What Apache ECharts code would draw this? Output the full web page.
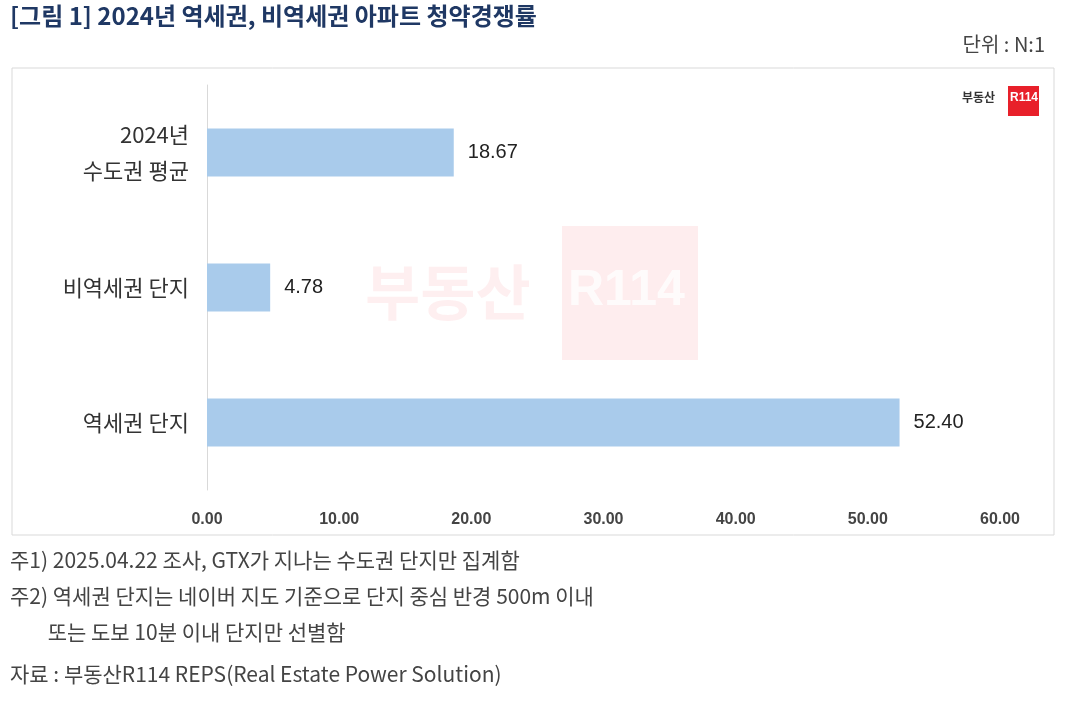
<!DOCTYPE html>
<html><head><meta charset="utf-8">
<script src="https://cdn.jsdelivr.net/npm/echarts@6/dist/echarts.min.js"></script>
<style>body{margin:0;background:#fff}#c{width:1077px;height:723px}</style>
</head><body><div id="c"></div>
<script>
var categories = ['역세권 단지', '비역세권 단지', '2024년\n수도권 평균'];
var values = [52.40, 4.78, 18.67];
var xTicks = [0, 10, 20, 30, 40, 50, 60];
var notes = [
  '주1) 2025.04.22 조사, GTX가 지나는 수도권 단지만 집계함',
  '주2) 역세권 단지는 네이버 지도 기준으로 단지 중심 반경 500m 이내',
  '        또는 도보 10분 이내 단지만 선별함',
  '자료 : 부동산R114 REPS(Real Estate Power Solution)'
];
var noteY = [565, 601, 637, 679];

var font = '"Noto Sans CJK KR", sans-serif';
var graphics = [
  {type:'rect', shape:{x:12,y:68,width:1042,height:467}, style:{fill:'none', stroke:'#d9d9d9', lineWidth:1}, z:-10},
  {type:'text', left:10, top:4, style:{text:'[그림 1] 2024년 역세권, 비역세권 아파트 청약경쟁률', font:'bold 24px '+font, fill:'#1f3864', letterSpacing:1.5}},
  {type:'text', right:32, top:34, style:{text:'단위 : N:1', font:'20px '+font, fill:'#444'}},
  {type:'rect', shape:{x:562,y:226,width:136,height:134}, style:{fill:'rgba(237,28,36,0.08)'}, z:-5},
  {type:'text', x:365, y:262, style:{text:'부동산', font:'bold 60px '+font, fill:'rgba(237,28,36,0.07)'}, z:-5},
  {type:'text', x:568, y:266, style:{text:'R114', font:'bold 50px Arial', fill:'rgba(255,255,255,0.8)'}, z:-4},
  {type:'text', x:962, y:91, style:{text:'부동산', font:'bold 12px '+font, fill:'#333'}},
  {type:'rect', shape:{x:1008,y:86,width:31,height:30}, style:{fill:'#e8202a'}},
  {type:'text', x:1010, y:92, style:{text:'R114', font:'bold 12px Arial', fill:'#fff'}}
];
notes.forEach(function(t, i){
  graphics.push({type:'text', x:10, y:noteY[i]-15, style:{text:t, font:'21px '+font, fill:'#444', letterSpacing:1.2}});
});

var chart = echarts.init(document.getElementById('c'));
chart.setOption({
  animation:false,
  grid:{left:207, right:77, top:85, bottom:233},
  xAxis:{type:'value', min:0, max:60, interval:10,
    axisLine:{show:false}, axisTick:{show:false}, splitLine:{show:false},
    axisLabel:{margin:22, fontSize:16, fontWeight:'bold', color:'#444', fontFamily:'Arial',
      formatter:function(v){return v.toFixed(2);}}},
  yAxis:{type:'category', data:categories,
    axisLine:{lineStyle:{color:'#d9d9d9'}}, axisTick:{show:false},
    axisLabel:{margin:18, fontSize:22, lineHeight:36, color:'#333', fontFamily:font}},
  series:[{type:'bar', data:values, barWidth:48,
    itemStyle:{color:'#a9cbeb'},
    label:{show:true, position:'right', distance:14, fontSize:20, color:'#222', fontFamily:'Arial',
      formatter:function(p){return p.value.toFixed(2);}}}],
  graphic:graphics
});
</script></body></html>
